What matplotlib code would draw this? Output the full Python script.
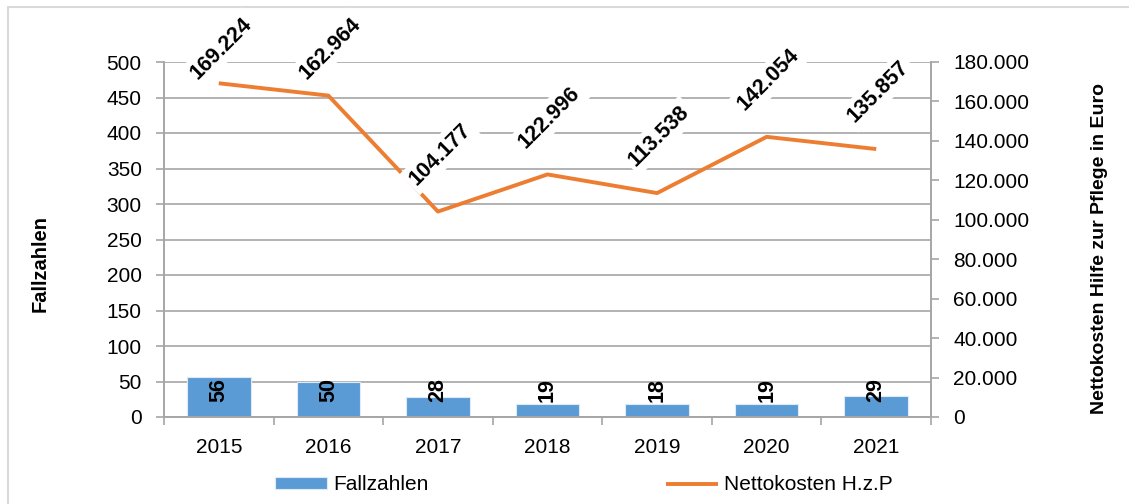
import numpy as np
import matplotlib
matplotlib.use('Agg')
import matplotlib.pyplot as plt
from matplotlib import font_manager
from matplotlib.patches import Rectangle
from matplotlib.ticker import FuncFormatter

years = ['2015', '2016', '2017', '2018', '2019', '2020', '2021']
fallzahlen = [56, 50, 28, 19, 18, 19, 29]
nettokosten = [169224, 162964, 104177, 122996, 113538, 142054, 135857]

names = {f.name for f in font_manager.fontManager.ttflist}
font = 'Liberation Sans Narrow' if 'Liberation Sans Narrow' in names else 'Liberation Sans'
plt.rcParams['font.family'] = [font, 'DejaVu Sans']
fs = 17 if font == 'Liberation Sans Narrow' else 15
plt.rcParams['font.size'] = fs

blue = '#5B9BD5'
orange = '#ED7D31'
grey = '#A6A6A6'

fig = plt.figure(figsize=(11.29, 5.04), dpi=100)
ax = fig.add_axes([164 / 1129, 87 / 504, 767 / 1129, 355 / 504])
ax2 = ax.twinx()

x = np.arange(len(years))
ax.bar(x, fallzahlen, width=0.58, color=blue, edgecolor='#DDEBF7', linewidth=0.8,
       zorder=2, label='Fallzahlen')
for xi, v in zip(x, fallzahlen):
    ax.text(xi, 38, str(v), rotation=90, ha='center', va='center',
            fontweight='bold', fontsize=fs + 0.5, zorder=3)

ax.set_xlim(-0.5, len(years) - 0.5)
ax.set_ylim(0, 500)
ax.set_yticks(np.arange(0, 501, 50))
ax.set_xticks(x)
ax.set_xticklabels(years)
ax.set_xticks(np.arange(-0.5, len(years), 1), minor=True)
ax.tick_params(axis='x', which='major', length=0, pad=15)
ax.tick_params(axis='x', which='minor', length=6, color=grey, width=1.2)
ax.tick_params(axis='y', length=6, color=grey, width=1.2, pad=10)
ax.grid(axis='y', color=grey, linewidth=1.2, zorder=0)
ax.set_axisbelow(True)

ax2.plot(x, nettokosten, color=orange, linewidth=2.8, zorder=2,
         label='Nettokosten H.z.P', solid_capstyle='butt')
ax2.set_ylim(0, 180000)
ax2.set_yticks(np.arange(0, 180001, 20000))
ax2.yaxis.set_major_formatter(FuncFormatter(lambda v, p: '{:,.0f}'.format(v).replace(',', '.')))
ax2.tick_params(axis='y', length=6, color=grey, width=1.2, pad=10)

label_y = np.minimum(np.array(nettokosten) + 29000, 187000)
for xi, v, ly in zip(x, nettokosten, label_y):
    ax2.text(xi + 0.02, ly, '{:,.0f}'.format(v).replace(',', '.'), rotation=45,
             rotation_mode='anchor', ha='center', va='center', fontweight='bold',
             fontsize=fs + 0.5, zorder=5, clip_on=False,
             bbox=dict(facecolor='white', edgecolor='none', pad=3))

for a in (ax, ax2):
    for s in a.spines.values():
        s.set_color(grey)
        s.set_linewidth(1.2)
    a.spines['top'].set_visible(False)

fig.text(40 / 1129, 1 - 264 / 504, 'Fallzahlen', rotation=90, ha='center', va='center',
         fontweight='bold', fontsize=14.5)
fig.text(1100 / 1129, 1 - 248 / 504, 'Nettokosten Hilfe zur Pflege in Euro', rotation=90,
         ha='center', va='center', fontweight='bold', fontsize=14)

h1, l1 = ax.get_legend_handles_labels()
h2, l2 = ax2.get_legend_handles_labels()
fig.legend(h1 + h2, l1 + l2, loc='center', bbox_to_anchor=(584 / 1129, 1 - 485 / 504),
           ncol=2, frameon=False, handlelength=2.5, handletextpad=0.3,
           columnspacing=11.4, fontsize=fs, handleheight=0.55)

fig.patches.append(Rectangle((8 / 1129, -0.1), 1.2, 1.1 - 7 / 504, transform=fig.transFigure,
                             fill=False, edgecolor='#D9D9D9', linewidth=1.5, zorder=-1))

fig.savefig('out.png', dpi=100)
